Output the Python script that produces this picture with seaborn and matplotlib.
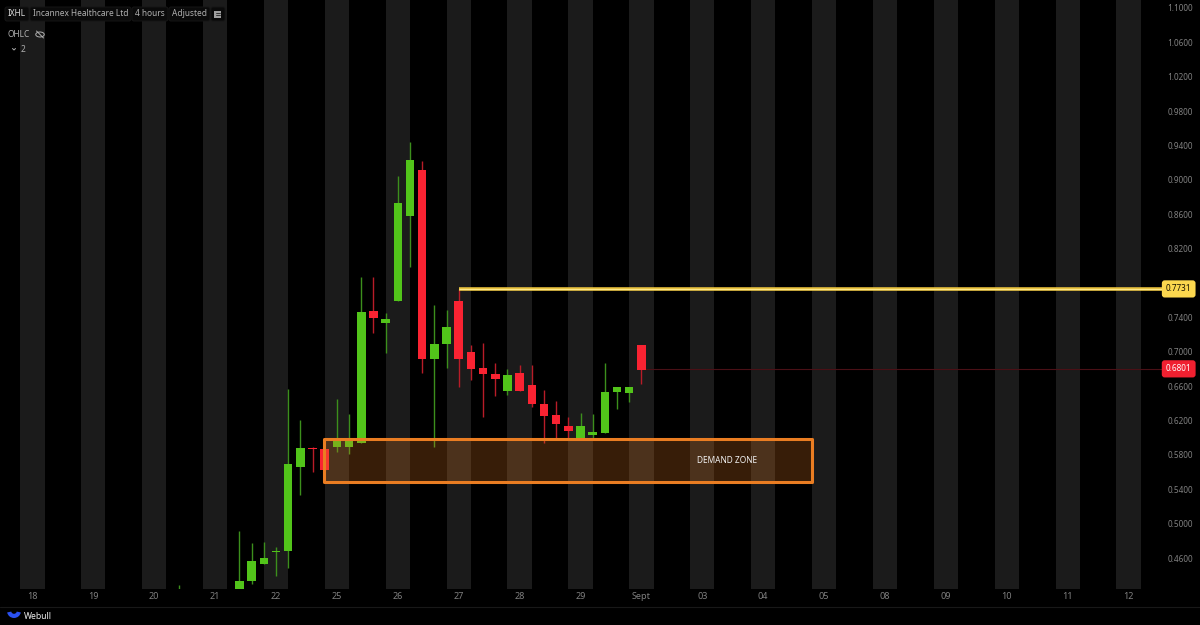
import matplotlib
matplotlib.use("Agg")
import matplotlib.pyplot as plt
import matplotlib.patches as mpatches
import pandas as pd
import seaborn as sns

# trading days on the x axis, one candle every 4 hours = 5 per day
day_labels = ["18", "19", "20", "21", "22", "25", "26", "27", "28", "29", "Sept",
              "03", "04", "05", "08", "09", "10", "11", "12"]
price_ticks = [1.10, 1.06, 1.02, 0.98, 0.94, 0.90, 0.86, 0.82, 0.74, 0.70, 0.66,
               0.62, 0.58, 0.54, 0.50, 0.46]

candle_idx = [12, 17, 18, 19, 20, 21, 22, 23, 24, 25, 26, 27, 28, 29, 30, 31, 32, 33, 34,
              35, 36, 37, 38, 39, 40, 41, 42, 43, 44, 45, 46, 47, 48, 49, 50]
opens = [0.4200, 0.4200, 0.4336, 0.4530, 0.4665, 0.4678, 0.5662, 0.5880, 0.5872, 0.5888,
         0.5888, 0.5942, 0.7470, 0.7331, 0.7587, 0.8583, 0.9119, 0.6919, 0.7090,
         0.7594, 0.6997, 0.6811, 0.6741, 0.6543, 0.6753, 0.6610, 0.6396, 0.6260, 0.6136,
         0.5993, 0.6031, 0.6054, 0.6532, 0.6523, 0.7075]
highs = [0.4286, 0.4918, 0.4778, 0.4786, 0.4724, 0.6567, 0.6202, 0.5895, 0.5872, 0.6450,
         0.6276, 0.7873, 0.7873, 0.7454, 0.9045, 0.9444, 0.9223, 0.7547, 0.7482,
         0.7731, 0.7082, 0.7098, 0.6873, 0.6795, 0.6846, 0.6842, 0.6555, 0.6430, 0.6244,
         0.6283, 0.6276, 0.6873, 0.6586, 0.6594, 0.7075]
lows = [0.4200, 0.4200, 0.4297, 0.4530, 0.4391, 0.4484, 0.5329, 0.5600, 0.5620, 0.5837,
        0.5807, 0.5942, 0.7215, 0.6982, 0.7587, 0.7990, 0.6749, 0.5888, 0.6814,
        0.6586, 0.6671, 0.6244, 0.6489, 0.6497, 0.6543, 0.6357, 0.5934, 0.5993, 0.5996,
        0.5993, 0.5996, 0.6054, 0.6334, 0.6419, 0.6625]
closes = [0.4210, 0.4336, 0.4569, 0.4596, 0.4680, 0.5694, 0.5876, 0.5872, 0.5620, 0.5973,
          0.5973, 0.7466, 0.7393, 0.7377, 0.8727, 0.9227, 0.6919, 0.7090, 0.7291,
          0.6919, 0.6796, 0.6737, 0.6686, 0.6726, 0.6543, 0.6388, 0.6252, 0.6163, 0.6081,
          0.6132, 0.6062, 0.6535, 0.6586, 0.6594, 0.6788]

resistance = 0.7731
last_price = 0.6801
zone_top, zone_bottom = 0.5990, 0.5479
zone_start, zone_end = 4.796, 12.80
zone_label_day = 11.4

GREEN = "#52c41a"
RED = "#fa2332"
ORANGE = "#ea7d22"
BAND = "#1b1b1b"
TICK = "#808080"
HEAD = "#b0b0b0"

sns.set_theme(style="dark", rc={"figure.facecolor": "black", "axes.facecolor": "black"})
plt.rcParams["font.family"] = ["Noto Sans", "DejaVu Sans"]

df = pd.DataFrame({"idx": candle_idx, "open": opens, "high": highs, "low": lows, "close": closes})
df["day"] = df["idx"] / 5
df["body"] = (df["close"] - df["open"]).abs()
df["base"] = df[["open", "close"]].min(axis=1)
df["up"] = df["close"] >= df["open"]

fig = plt.figure(figsize=(12, 6.25), dpi=100)
ax = fig.add_axes([0, 1 - 589 / 625, 1163 / 1200, 589 / 625])

# alternating day bands
for d in range(len(day_labels)):
    ax.axvspan(d - 0.2, d + 0.2, color=BAND, lw=0, zorder=0)

# wicks
ax.vlines(df["day"], df["low"], df["high"], colors=df["up"].map({True: "#3c8f1c", False: "#b81c28"}),
          lw=1, zorder=2)

# candle bodies
for is_up, color in [(True, GREEN), (False, RED)]:
    part = df[df["up"] == is_up]
    sns.barplot(x=part["day"].values, y=part["body"].values, bottom=part["base"].values,
                native_scale=True, color=color, saturation=1, width=0.7, errorbar=None,
                linewidth=0, zorder=3, ax=ax)

# lines and zone
ax.plot([7, 19.1], [resistance, resistance], color="#e6bf3c", lw=2.6, zorder=4, solid_capstyle="butt")
ax.plot([7, 19.1], [resistance, resistance], color="#ffe98a", lw=0.9, zorder=4, solid_capstyle="butt")
ax.plot([10, 19.1], [last_price, last_price], color="#4a1016", lw=0.8, zorder=1)
ax.add_patch(mpatches.Rectangle((zone_start, zone_bottom), zone_end - zone_start, zone_top - zone_bottom,
                                facecolor=ORANGE, alpha=0.24, lw=0, zorder=5))
ax.add_patch(mpatches.Rectangle((zone_start, zone_bottom), zone_end - zone_start, zone_top - zone_bottom,
                                fill=False, edgecolor=ORANGE, lw=2.2, joinstyle="round", zorder=6))
ax.text(zone_label_day, (zone_top + zone_bottom) / 2, "DEMAND ZONE", color="#f0f0f0",
        fontsize=6, ha="center", va="center", zorder=7)

ax.set_xlim(-32.4 / 60.9, (1163 - 32.4) / 60.9)
ax.set_ylim(0.46 - 31 / 859.4, 0.46 + 558 / 859.4)
ax.set_xticks(range(len(day_labels)))
ax.set_xticklabels(day_labels)
ax.set_yticks(price_ticks)
ax.set_yticklabels([f"{p:.4f}" for p in price_ticks])
ax.yaxis.tick_right()
ax.tick_params(axis="x", length=0, pad=2, labelsize=6.5, colors=TICK)
ax.tick_params(axis="y", length=0, pad=3, labelsize=5.9, colors=TICK)
ax.set_xlabel("")
ax.set_ylabel("")
ax.grid(False)
sns.despine(ax=ax, left=True, bottom=True, right=True, top=True)

# price tags on the axis
trans = ax.get_yaxis_transform()
ax.text(1.0135, resistance, f"{resistance:.4f}", transform=trans, color="#1a1400", fontsize=5.9, ha="center",
        va="center", clip_on=False, zorder=8,
        bbox=dict(boxstyle="round,pad=0.5,rounding_size=0.35", fc="#fbd74e", ec="none"))
ax.text(1.0135, last_price, f"{last_price:.4f}", transform=trans, color="white", fontsize=5.9, ha="center",
        va="center", clip_on=False, zorder=8,
        bbox=dict(boxstyle="round,pad=0.5,rounding_size=0.35", fc="#f02030", ec="none"))

# header and footer drawn in pixel coordinates
ui = fig.add_axes([0, 0, 1, 1], facecolor="none")
ui.set_xlim(0, 1200)
ui.set_ylim(625, 0)
ui.axis("off")

for x0, w in [(5, 24), (30, 101), (132, 36), (169, 41), (211, 14)]:
    ui.add_patch(mpatches.FancyBboxPatch((x0, 7), w, 14, boxstyle="round,pad=0,rounding_size=2",
                                         fc="#0a0a0a", ec="#161616", lw=0.7))
head = [(8, "IXHL", "#dcdcdc"), (33, "Incannex Healthcare Ltd", HEAD),
        (135, "4 hours", HEAD), (172, "Adjusted", HEAD)]
for x0, s, c in head:
    ui.text(x0, 14, s, color=c, fontsize=6, va="center", ha="left")
ui.add_patch(mpatches.Rectangle((214, 10.5), 7, 7, fc="#a0a0a0", ec="none"))
ui.plot([215.5, 219.5], [13, 13], color="#222222", lw=0.6)
ui.plot([215.5, 219.5], [15, 15], color="#222222", lw=0.6)

ui.text(8, 34.5, "OHLC", color=HEAD, fontsize=6, va="center", ha="left")
ui.add_patch(mpatches.Ellipse((40, 34.5), 8.5, 5, fc="none", ec=HEAD, lw=0.7))
ui.plot([36.5, 43.5], [31, 38], color=HEAD, lw=0.7)
ui.plot([12.5, 14, 15.5], [48.5, 50, 48.5], color=HEAD, lw=0.7)
ui.text(21, 49.5, "2", color=HEAD, fontsize=6, va="center", ha="left")

ui.plot([0, 1200], [607, 607], color="#181818", lw=0.8)
ui.add_patch(mpatches.Wedge((14, 611), 7, 12, 168, width=4.2, fc="#2a50f0", ec="none"))
ui.text(24, 616.5, "Webull", color="#f0f0f0", fontsize=6.2, fontweight="bold", va="center", ha="left")

fig.savefig("out.png", dpi=100, facecolor="black")
